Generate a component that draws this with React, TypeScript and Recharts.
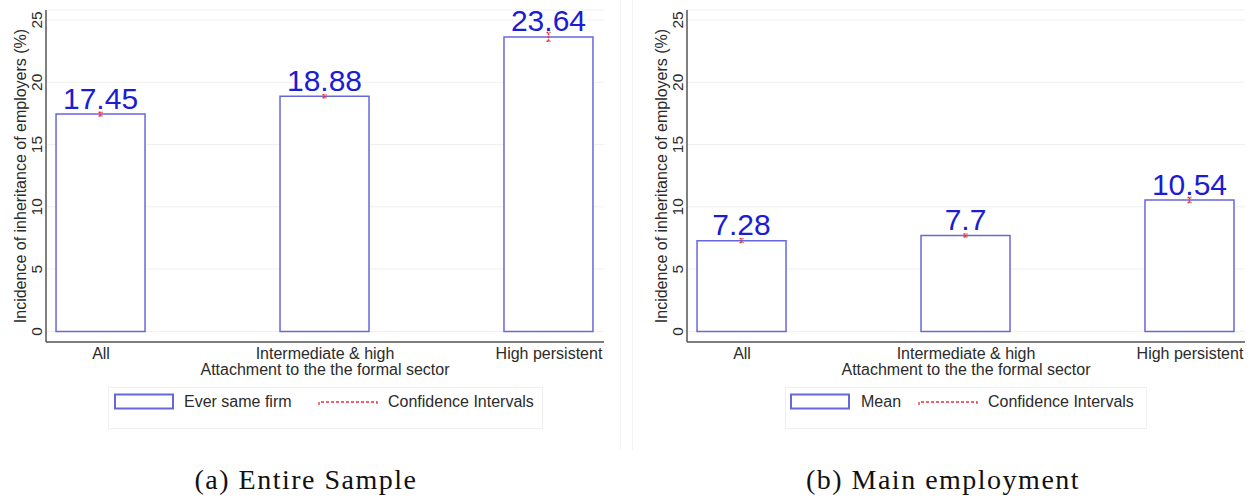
import React from 'react';
import {
  BarChart, Bar, ErrorBar, LabelList,
  XAxis, YAxis, CartesianGrid,
} from 'recharts';

const categories = ['All', 'Intermediate & high', 'High persistent'];
const positions = [0, 1, 2];
const sampleMeans = [17.45, 18.88, 23.64];
const sampleErr = [0.15, 0.12, 0.35];
const mainMeans = [7.28, 7.7, 10.54];
const mainErr = [0.15, 0.12, 0.2];
const yTicks = [0, 5, 10, 15, 20, 25];

const SANS = '"Liberation Sans", Arial, Helvetica, sans-serif';
const SERIF = '"Liberation Serif", "Times New Roman", serif';
const BAR_STROKE = '#6767dc';
const LABEL_BLUE = '#1c1cd2';
const CI_RED = '#e8313a';
const TEXT = '#2b2b2b';

const buildRows = (means: number[], errs: number[]) =>
  positions.map((x, i) => ({ x, name: categories[i], value: means[i], err: errs[i] }));

const sampleRows = buildRows(sampleMeans, sampleErr);
const mainRows = buildRows(mainMeans, mainErr);

function YTick({ x, y, payload }: any) {
  const tx = x - 4;
  return (
    <text x={tx} y={y} transform={`rotate(-90, ${tx}, ${y})`} textAnchor="middle"
      fontSize={15.5} fontFamily={SANS} fill={TEXT}>
      {payload.value}
    </text>
  );
}

function XTick({ x, y, payload }: any) {
  return (
    <text x={x} y={y} dy={17} textAnchor="middle" fontSize={16} fontFamily={SANS} fill={TEXT}>
      {categories[payload.value]}
    </text>
  );
}

interface LegendGeom {
  boxX: number; boxW: number; swatchX: number; textX: number; lineX: number; ciTextX: number;
}

function PanelLegend({ name, g }: { name: string; g: LegendGeom }) {
  const textStyle: React.CSSProperties = {
    position: 'absolute', top: 393, fontFamily: SANS, fontSize: 16, lineHeight: '18px',
    color: TEXT, whiteSpace: 'nowrap',
  };
  return (
    <>
      <div style={{
        position: 'absolute', left: g.boxX, top: 387, width: g.boxW, height: 42,
        border: '1px solid #efefef', boxSizing: 'border-box',
      }} />
      <svg style={{ position: 'absolute', left: g.swatchX, top: 393 }} width={61} height={18}>
        <rect x={1} y={1.5} width={58} height={14} fill="#fff" stroke={BAR_STROKE} strokeWidth={2} />
      </svg>
      <div style={{ ...textStyle, left: g.textX }}>{name}</div>
      <svg style={{ position: 'absolute', left: g.lineX, top: 396 }} width={62} height={12}>
        <path d="M1 9 L1 6 L59 6 L59 9" fill="none" stroke={CI_RED} strokeWidth={1.3} strokeDasharray="3 2" />
      </svg>
      <div style={{ ...textStyle, left: g.ciTextX }}>Confidence Intervals</div>
    </>
  );
}

interface PanelProps {
  left: number;
  width: number;
  rightMargin: number;
  rows: { x: number; name: string; value: number; err: number }[];
  legendName: string;
  legend: LegendGeom;
  caption: string;
  captionX: number;
}

function Panel({ left, width, rightMargin, rows, legendName, legend, caption, captionX }: PanelProps) {
  return (
    <>
      <div style={{ position: 'absolute', left, top: 0 }}>
        <BarChart width={width} height={400} data={rows}
          margin={{ top: 10, right: rightMargin, bottom: 0, left: 0 }}>
          <CartesianGrid horizontal vertical={false} stroke="#f0f0f0" strokeWidth={1} />
          <XAxis
            type="number"
            dataKey="x"
            domain={[-0.2457, 2.2457]}
            ticks={positions}
            allowDataOverflow
            height={58}
            tickSize={0}
            tickMargin={0}
            tickLine={false}
            axisLine={{ stroke: '#555', strokeWidth: 1.5 }}
            tick={(p: any) => <XTick {...p} />}
            label={{
              value: 'Attachment to the the formal sector',
              position: 'insideTop',
              offset: 22,
              style: { fontSize: 16, fontFamily: SANS, fill: TEXT },
            }}
          />
          <YAxis
            type="number"
            domain={[-0.85, 25.8]}
            ticks={yTicks}
            allowDataOverflow
            width={46}
            tickSize={0}
            tickMargin={0}
            tickLine={false}
            axisLine={{ stroke: '#555', strokeWidth: 1.5 }}
            tick={(p: any) => <YTick {...p} />}
            label={{
              value: 'Incidence of inheritance of employers (%)',
              angle: -90,
              position: 'insideLeft',
              offset: 20,
              style: { textAnchor: 'middle', fontSize: 16, fontFamily: SANS, fill: TEXT },
            }}
          />
          <Bar dataKey="value" barSize={89} fill="#ffffff" stroke={BAR_STROKE} strokeWidth={1.5}
            isAnimationActive={false}>
            <ErrorBar dataKey="err" direction="y" width={2} stroke={CI_RED} strokeWidth={1.5}
              strokeDasharray="2 1" isAnimationActive={false} />
            <LabelList dataKey="value" position="top" offset={5.5}
              style={{ fontSize: 30, fontFamily: SANS, fill: LABEL_BLUE }} />
          </Bar>
        </BarChart>
      </div>
      <PanelLegend name={legendName} g={legend} />
      <div style={{
        position: 'absolute', left: captionX - 250, width: 500, top: 466, textAlign: 'center',
        fontFamily: SERIF, fontSize: 28, lineHeight: '28px', letterSpacing: 1.5, color: '#111',
      }}>
        {caption}
      </div>
    </>
  );
}

export default function App() {
  return (
    <div style={{
      position: 'absolute', left: 0, top: 0, width: 1253, height: 500,
      overflow: 'hidden', background: '#fff',
    }}>
      <div style={{ position: 'absolute', left: 0, top: 0, width: 620, height: 450, borderRight: '1px solid #f4f4f4' }} />
      <div style={{ position: 'absolute', left: 632, top: 0, width: 621, height: 450, borderLeft: '1px solid #f4f4f4' }} />
      <Panel
        left={0}
        width={620}
        rightMargin={16}
        rows={sampleRows}
        legendName="Ever same firm"
        legend={{ boxX: 108, boxW: 435, swatchX: 114, textX: 184, lineX: 318, ciTextX: 388 }}
        caption="(a) Entire Sample"
        captionX={306}
      />
      <Panel
        left={641}
        width={612}
        rightMargin={8}
        rows={mainRows}
        legendName="Mean"
        legend={{ boxX: 785, boxW: 362, swatchX: 790, textX: 861, lineX: 918, ciTextX: 988 }}
        caption="(b) Main employment"
        captionX={943}
      />
    </div>
  );
}
